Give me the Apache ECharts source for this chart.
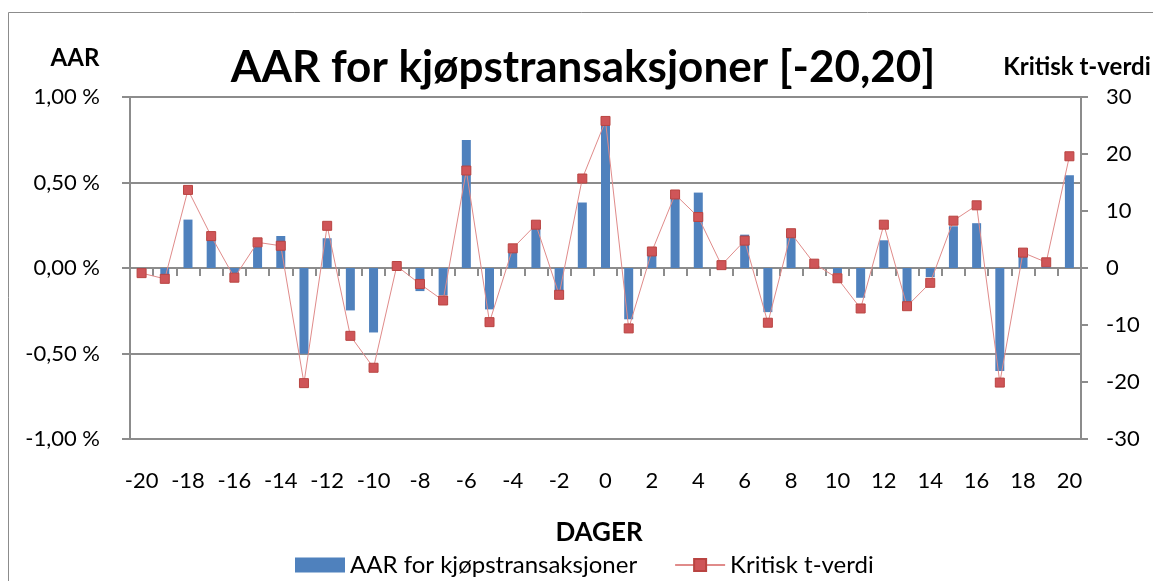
<!DOCTYPE html>
<html>
<head>
<meta charset="utf-8">
<script src="https://cdn.jsdelivr.net/npm/echarts@6/dist/echarts.min.js"></script>
<style>
html,body{margin:0;padding:0;background:#fff;}
#chart{width:1153px;height:581px;}
</style>
</head>
<body>
<div id="chart"></div>
<script>
const days = [-20,-19,-18,-17,-16,-15,-14,-13,-12,-11,-10,-9,-8,-7,-6,-5,-4,-3,-2,-1,0,1,2,3,4,5,6,7,8,9,10,11,12,13,14,15,16,17,18,19,20];
const aar = [-0.01,-0.043,0.283,0.18,-0.03,0.123,0.187,-0.502,0.174,-0.248,-0.377,-0.005,-0.135,-0.16,0.748,-0.242,0.113,0.25,-0.14,0.383,0.856,-0.30,0.094,0.42,0.441,0.008,0.195,-0.258,0.2,0.008,-0.033,-0.174,0.162,-0.209,-0.053,0.244,0.262,-0.603,0.068,0.005,0.543];
const tval = [-0.9,-1.9,13.7,5.6,-1.7,4.5,3.9,-20.2,7.4,-11.9,-17.5,0.35,-2.8,-5.7,17.1,-9.5,3.45,7.6,-4.7,15.7,25.8,-10.6,2.9,12.9,8.95,0.5,4.8,-9.6,6.1,0.76,-1.8,-7.1,7.6,-6.7,-2.6,8.3,11.0,-20.1,2.7,1.0,19.6];
const leftTicks = {min:-1, max:1, interval:0.5};
const rightTicks = {min:-30, max:30, interval:10};
const seriesNames = ['AAR for kjøpstransaksjoner','Kritisk t-verdi'];

const FONT = 'Lato, "Liberation Sans", sans-serif';
const chart = echarts.init(document.getElementById('chart'), null, {renderer:'canvas'});
const option = {
  animation:false,
  backgroundColor:'#fff',
  textStyle:{fontFamily:FONT},
  grid:{left:130, right:72, top:97, bottom:142, containLabel:false},
  xAxis:[{
    type:'category', data:days.map(String), boundaryGap:true,
    axisLine:{show:true, onZero:true, onZeroAxisIndex:0, lineStyle:{color:'#8c8c8c', width:2}},
    axisTick:{show:true, interval:0, length:8, inside:false, lineStyle:{color:'#8c8c8c', width:2}},
    axisLabel:{show:false}, splitLine:{show:false}
  },{
    type:'category', position:'bottom', data:days.map(String), boundaryGap:true,
    axisLine:{show:false}, axisTick:{show:false}, splitLine:{show:false},
    axisLabel:{show:true, interval:1, margin:31, fontSize:22, color:'#000', fontFamily:FONT}
  }],
  yAxis:[{
    type:'value', min:leftTicks.min, max:leftTicks.max, interval:leftTicks.interval, position:'left',
    axisLine:{show:true, lineStyle:{color:'#8c8c8c', width:2}},
    axisTick:{show:true, length:8, lineStyle:{color:'#8c8c8c', width:2}},
    splitLine:{show:true, lineStyle:{color:'#8c8c8c', width:2}},
    axisLabel:{margin:30, fontSize:22, color:'#000', fontFamily:FONT,
      formatter:v=>v.toFixed(2).replace('.',',')+' %'}
  },{
    type:'value', min:rightTicks.min, max:rightTicks.max, interval:rightTicks.interval, position:'right',
    axisLine:{show:true, lineStyle:{color:'#8c8c8c', width:2}},
    axisTick:{show:true, length:7, lineStyle:{color:'#8c8c8c', width:2}},
    splitLine:{show:false},
    axisLabel:{margin:25, fontSize:22, color:'#000', fontFamily:FONT}
  }],
  legend:{
    top:548, left:290, itemGap:37, itemWidth:50, itemHeight:15,
    textStyle:{fontSize:24, color:'#000', fontFamily:FONT},
    data:[
      {name:seriesNames[0], icon:'rect'},
      {name:seriesNames[1]}
    ]
  },
  series:[{
    name:seriesNames[0], type:'bar', xAxisIndex:0, yAxisIndex:0, data:aar,
    barWidth:9, itemStyle:{color:'#4f81bd'}
  },{
    name:seriesNames[1], type:'line', xAxisIndex:0, yAxisIndex:1, data:tval,
    symbol:'rect', symbolSize:9,
    lineStyle:{color:'#e08b8a', width:1},
    itemStyle:{color:'#cf5558', borderColor:'#b94441', borderWidth:1}
  }],
  graphic:[
    {type:'rect', shape:{x:8.5, y:12.5, width:1160, height:600}, style:{fill:'none', stroke:'#8c8c8c', lineWidth:1}, silent:true},
    {type:'text', x:583, y:68, style:{text:'AAR for kjøpstransaksjoner [-20,20]', font:'bold 44px '+FONT, fill:'#000', align:'center', verticalAlign:'middle'}},
    {type:'text', x:75, y:58, style:{text:'AAR', font:'bold 24px '+FONT, fill:'#000', align:'center', verticalAlign:'middle'}},
    {type:'text', x:1077, y:67, style:{text:'Kritisk t-verdi', font:'bold 24px '+FONT, fill:'#000', align:'center', verticalAlign:'middle'}},
    {type:'text', x:599, y:533, style:{text:'DAGER', font:'bold 26px '+FONT, fill:'#000', align:'center', verticalAlign:'middle'}}
  ]
};
chart.setOption(option);
</script>
</body>
</html>
